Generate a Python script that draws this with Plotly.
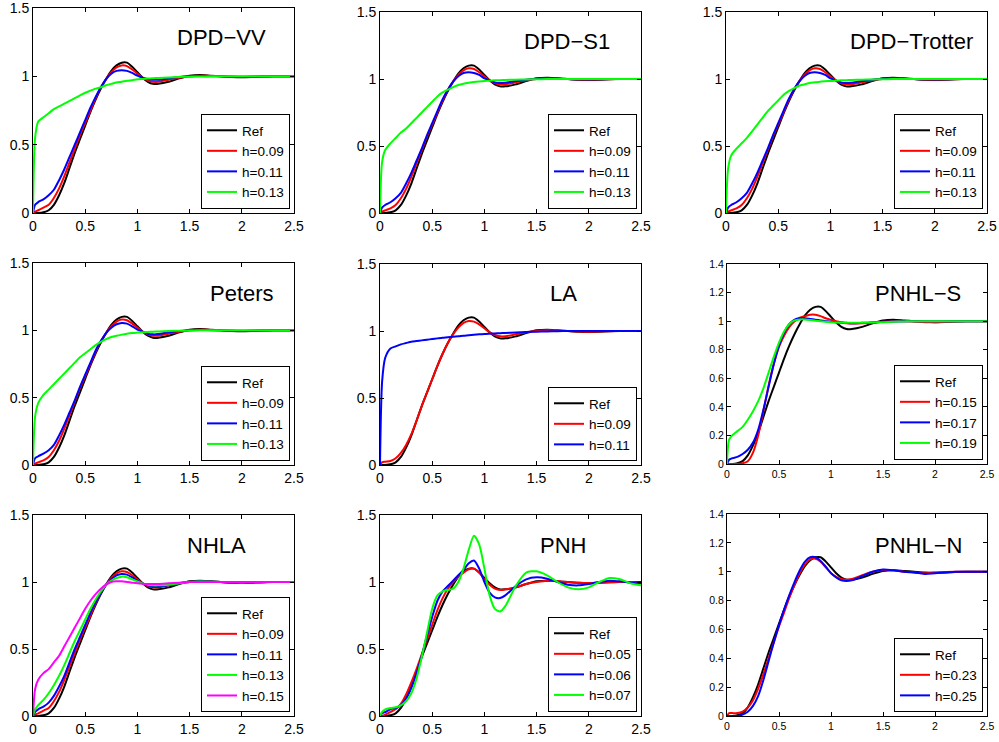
import plotly.graph_objects as go

W, H = 999, 742
FONT = "Liberation Sans, Arial, Helvetica, sans-serif"

# shared radial grid
r = [0, 0.02, 0.05, 0.1, 0.15, 0.2, 0.25, 0.3, 0.35, 0.4, 0.45, 0.5, 0.55, 0.6, 0.65,
     0.7, 0.75, 0.8, 0.85, 0.9, 0.95, 1.0, 1.05, 1.1, 1.15, 1.2, 1.3, 1.4, 1.5, 1.6,
     1.7, 1.8, 1.9, 2.0, 2.1, 2.2, 2.3, 2.4, 2.5]

x_ticks = [0, 0.5, 1, 1.5, 2, 2.5]
y_ticks_15 = [0, 0.5, 1, 1.5]
y_ticks_14 = [0, 0.2, 0.4, 0.6, 0.8, 1, 1.2, 1.4]

ref_g = [0, 0, 0, 0.005, 0.02, 0.06, 0.13, 0.22, 0.33, 0.44, 0.54, 0.64, 0.74, 0.83,
         0.91, 0.98, 1.04, 1.08, 1.10, 1.10, 1.07, 1.03, 0.99, 0.96, 0.945, 0.945,
         0.96, 0.985, 1.005, 1.01, 1.005, 1.0, 0.995, 0.993, 0.995, 0.998, 1.0, 1.0, 1.0]

# DPD-VV
vv_h009 = [0, 0.01, 0.02, 0.04, 0.06, 0.11, 0.18, 0.27, 0.37, 0.47, 0.57, 0.66, 0.75, 0.84,
           0.92, 0.98, 1.03, 1.065, 1.08, 1.075, 1.05, 1.02, 0.99, 0.97, 0.96, 0.96,
           0.975, 0.99, 1.0, 1.005, 1.003, 1.0, 0.997, 0.995, 0.997, 0.999, 1.0, 1.0, 1.0]
vv_h011 = [0, 0.06, 0.08, 0.10, 0.13, 0.17, 0.24, 0.32, 0.41, 0.50, 0.59, 0.68, 0.77, 0.85,
           0.92, 0.98, 1.02, 1.04, 1.045, 1.04, 1.025, 1.005, 0.99, 0.98, 0.975, 0.975,
           0.985, 0.995, 1.0, 1.002, 1.001, 1.0, 0.998, 0.997, 0.998, 1.0, 1.0, 1.0, 1.0]
vv_h013 = [0, 0.55, 0.67, 0.70, 0.73, 0.76, 0.78, 0.80, 0.82, 0.84, 0.86, 0.88, 0.895, 0.91,
           0.92, 0.935, 0.945, 0.955, 0.96, 0.968, 0.972, 0.978, 0.981, 0.984, 0.986, 0.988,
           0.992, 0.995, 0.997, 0.999, 1.0, 1.0, 1.0, 1.0, 1.0, 1.0, 1.0, 1.0, 1.0]

# DPD-S1
s1_h009 = [0, 0.01, 0.02, 0.035, 0.06, 0.11, 0.18, 0.27, 0.37, 0.47, 0.57, 0.66, 0.75, 0.84,
           0.92, 0.98, 1.03, 1.065, 1.08, 1.075, 1.05, 1.02, 0.99, 0.97, 0.96, 0.96,
           0.975, 0.99, 1.0, 1.005, 1.003, 1.0, 0.997, 0.995, 0.997, 0.999, 1.0, 1.0, 1.0]
s1_h011 = [0, 0.04, 0.06, 0.08, 0.11, 0.15, 0.22, 0.30, 0.39, 0.48, 0.58, 0.67, 0.76, 0.85,
           0.92, 0.98, 1.02, 1.045, 1.05, 1.045, 1.03, 1.005, 0.99, 0.975, 0.97, 0.972,
           0.985, 0.995, 1.0, 1.003, 1.001, 1.0, 0.998, 0.997, 0.998, 1.0, 1.0, 1.0, 1.0]
s1_h013 = [0, 0.38, 0.47, 0.52, 0.56, 0.60, 0.63, 0.67, 0.71, 0.75, 0.79, 0.83, 0.87, 0.90,
           0.92, 0.94, 0.955, 0.965, 0.972, 0.978, 0.982, 0.985, 0.987, 0.99, 0.991, 0.993,
           0.995, 0.997, 0.998, 1.0, 1.0, 1.0, 1.0, 1.0, 1.0, 1.0, 1.0, 1.0, 1.0]

# DPD-Trotter
tr_h009 = [0, 0.01, 0.02, 0.035, 0.06, 0.11, 0.18, 0.27, 0.37, 0.47, 0.57, 0.66, 0.75, 0.84,
           0.92, 0.98, 1.03, 1.065, 1.08, 1.075, 1.05, 1.02, 0.99, 0.97, 0.96, 0.96,
           0.975, 0.99, 1.0, 1.005, 1.003, 1.0, 0.997, 0.995, 0.997, 0.999, 1.0, 1.0, 1.0]
tr_h011 = [0, 0.04, 0.06, 0.08, 0.11, 0.15, 0.22, 0.30, 0.39, 0.48, 0.58, 0.67, 0.76, 0.85,
           0.92, 0.98, 1.02, 1.045, 1.05, 1.045, 1.03, 1.005, 0.99, 0.975, 0.97, 0.972,
           0.985, 0.995, 1.0, 1.003, 1.001, 1.0, 0.998, 0.997, 0.998, 1.0, 1.0, 1.0, 1.0]
tr_h013 = [0, 0.33, 0.43, 0.48, 0.52, 0.56, 0.61, 0.66, 0.71, 0.76, 0.80, 0.84, 0.88, 0.91,
           0.93, 0.95, 0.96, 0.97, 0.975, 0.98, 0.983, 0.986, 0.988, 0.99, 0.991, 0.993,
           0.995, 0.997, 0.998, 1.0, 1.0, 1.0, 1.0, 1.0, 1.0, 1.0, 1.0, 1.0, 1.0]

# Peters
pe_h009 = [0, 0.01, 0.02, 0.035, 0.06, 0.11, 0.18, 0.27, 0.37, 0.47, 0.57, 0.66, 0.75, 0.84,
           0.92, 0.98, 1.03, 1.065, 1.08, 1.075, 1.05, 1.02, 0.99, 0.97, 0.96, 0.96,
           0.975, 0.99, 1.0, 1.005, 1.003, 1.0, 0.997, 0.995, 0.997, 0.999, 1.0, 1.0, 1.0]
pe_h011 = [0, 0.05, 0.065, 0.085, 0.11, 0.15, 0.22, 0.30, 0.39, 0.48, 0.58, 0.67, 0.76, 0.85,
           0.92, 0.98, 1.02, 1.045, 1.055, 1.05, 1.03, 1.005, 0.99, 0.975, 0.97, 0.972,
           0.985, 0.995, 1.0, 1.003, 1.001, 1.0, 0.998, 0.997, 0.998, 1.0, 1.0, 1.0, 1.0]
pe_h013 = [0, 0.36, 0.46, 0.52, 0.56, 0.60, 0.64, 0.68, 0.72, 0.76, 0.80, 0.83, 0.86, 0.89,
           0.915, 0.935, 0.95, 0.96, 0.968, 0.975, 0.98, 0.983, 0.986, 0.988, 0.99, 0.992,
           0.995, 0.997, 0.998, 1.0, 1.0, 1.0, 1.0, 1.0, 1.0, 1.0, 1.0, 1.0, 1.0]

# LA
la_h009 = [0, 0.02, 0.025, 0.03, 0.05, 0.09, 0.15, 0.23, 0.33, 0.44, 0.54, 0.64, 0.74, 0.83,
           0.91, 0.975, 1.025, 1.06, 1.075, 1.07, 1.05, 1.02, 0.99, 0.97, 0.96, 0.96,
           0.975, 0.99, 1.0, 1.005, 1.003, 1.0, 0.997, 0.995, 0.997, 0.999, 1.0, 1.0, 1.0]
la_h011 = [0, 0.62, 0.80, 0.87, 0.885, 0.90, 0.91, 0.92, 0.925, 0.93, 0.935, 0.94, 0.945, 0.95,
           0.953, 0.957, 0.96, 0.965, 0.968, 0.972, 0.975, 0.978, 0.98, 0.982, 0.984, 0.986,
           0.989, 0.992, 0.995, 0.997, 0.999, 1.0, 1.0, 1.0, 1.0, 1.0, 1.0, 1.0, 1.0]

# PNHL-S
ps_h015 = [0, 0, 0, 0, 0.005, 0.02, 0.08, 0.20, 0.37, 0.55, 0.70, 0.82, 0.90, 0.96,
           1.0, 1.025, 1.035, 1.045, 1.045, 1.035, 1.02, 1.01, 1.0, 0.99, 0.985, 0.983,
           0.985, 0.99, 0.995, 1.0, 1.0, 0.998, 0.992, 0.993, 0.996, 0.998, 1.0, 1.0, 1.0]
ps_h017 = [0, 0.03, 0.04, 0.05, 0.07, 0.10, 0.15, 0.24, 0.38, 0.54, 0.70, 0.83, 0.92, 0.98,
           1.01, 1.02, 1.02, 1.015, 1.01, 1.005, 1.0, 0.995, 0.992, 0.99, 0.988, 0.986,
           0.988, 0.99, 0.995, 0.998, 1.0, 1.0, 1.0, 1.0, 1.0, 1.0, 1.0, 1.0, 1.0]
ps_h019 = [0, 0.17, 0.20, 0.23, 0.26, 0.31, 0.37, 0.44, 0.53, 0.64, 0.75, 0.85, 0.93, 0.98,
           1.005, 1.012, 1.012, 1.008, 1.003, 1.0, 0.996, 0.993, 0.991, 0.99, 0.989, 0.988,
           0.989, 0.99, 0.993, 0.996, 0.998, 1.0, 1.0, 1.0, 1.0, 1.0, 1.0, 1.0, 1.0]

# NHLA
nh_h009 = [0, 0.01, 0.02, 0.04, 0.06, 0.11, 0.18, 0.27, 0.37, 0.47, 0.57, 0.66, 0.75, 0.84,
           0.92, 0.98, 1.03, 1.065, 1.08, 1.075, 1.05, 1.02, 0.99, 0.97, 0.96, 0.96,
           0.975, 0.99, 1.0, 1.005, 1.003, 1.0, 0.997, 0.995, 0.997, 0.999, 1.0, 1.0, 1.0]
nh_h011 = [0, 0.03, 0.05, 0.07, 0.10, 0.15, 0.22, 0.30, 0.40, 0.50, 0.59, 0.68, 0.77, 0.85,
           0.92, 0.98, 1.02, 1.05, 1.06, 1.055, 1.035, 1.01, 0.99, 0.975, 0.965, 0.965,
           0.975, 0.99, 1.0, 1.005, 1.003, 1.0, 0.997, 0.996, 0.997, 0.999, 1.0, 1.0, 1.0]
nh_h013 = [0, 0.05, 0.08, 0.12, 0.17, 0.23, 0.30, 0.38, 0.47, 0.56, 0.64, 0.72, 0.80, 0.87,
           0.93, 0.98, 1.01, 1.03, 1.04, 1.035, 1.02, 1.005, 0.99, 0.98, 0.975, 0.975,
           0.98, 0.99, 1.0, 1.003, 1.002, 1.0, 0.998, 0.997, 0.998, 1.0, 1.0, 1.0, 1.0]
nh_h015 = [0, 0.20, 0.27, 0.32, 0.35, 0.40, 0.45, 0.52, 0.59, 0.66, 0.73, 0.80, 0.86, 0.91,
           0.95, 0.98, 1.0, 1.005, 1.005, 1.0, 0.995, 0.99, 0.987, 0.985, 0.985, 0.985,
           0.99, 0.995, 1.0, 1.0, 1.0, 1.0, 1.0, 1.0, 1.0, 1.0, 1.0, 1.0, 1.0]

# PNH
pn_h005 = [0, 0.0, 0.01, 0.03, 0.05, 0.09, 0.16, 0.25, 0.35, 0.46, 0.57, 0.68, 0.79, 0.88,
           0.95, 1.0, 1.04, 1.07, 1.095, 1.1, 1.07, 1.02, 0.98, 0.95, 0.94, 0.945,
           0.96, 0.985, 1.0, 1.01, 1.005, 1.0, 0.995, 0.993, 0.995, 0.998, 1.0, 1.0, 0.995]
pn_h006 = [0, 0.02, 0.03, 0.05, 0.06, 0.08, 0.13, 0.21, 0.32, 0.45, 0.60, 0.74, 0.86, 0.93,
           0.97, 1.01, 1.05, 1.09, 1.14, 1.16, 1.10, 1.0, 0.92, 0.885, 0.88, 0.90,
           0.97, 1.02, 1.035, 1.025, 1.0, 0.98, 0.975, 0.985, 1.0, 1.01, 1.005, 0.995, 0.99]
pn_h007 = [0, 0.03, 0.05, 0.06, 0.065, 0.08, 0.11, 0.17, 0.28, 0.44, 0.62, 0.80, 0.90, 0.93,
           0.94, 0.95, 1.0, 1.1, 1.24, 1.345, 1.28, 1.1, 0.9, 0.8, 0.78, 0.82,
           0.97, 1.07, 1.08, 1.05, 1.0, 0.96, 0.945, 0.96, 1.0, 1.03, 1.02, 0.99, 0.975]

# PNHL-N
pl_h023 = [0, 0.02, 0.02, 0.02, 0.03, 0.06, 0.11, 0.19, 0.29, 0.40, 0.51, 0.62, 0.72, 0.82,
           0.91, 0.99, 1.05, 1.085, 1.09, 1.07, 1.03, 0.99, 0.965, 0.95, 0.945, 0.95,
           0.975, 1.0, 1.01, 1.01, 1.0, 0.995, 0.99, 0.995, 0.998, 1.0, 1.0, 1.0, 1.0]
pl_h025 = [0, 0, 0, 0, 0.01, 0.03, 0.07, 0.14, 0.25, 0.38, 0.51, 0.63, 0.74, 0.84,
           0.93, 1.01, 1.07, 1.1, 1.1, 1.075, 1.035, 0.99, 0.96, 0.94, 0.935, 0.94,
           0.97, 1.0, 1.015, 1.01, 1.0, 0.995, 0.985, 0.99, 0.995, 1.0, 1.0, 1.0, 1.0]

K, R, B, G, M = "#000000", "#ff0000", "#0000ff", "#00ff00", "#ff00ff"

panels = [
    dict(title="DPD−VV", box=(33, 8, 294, 213), ymax=1.5, yt=y_ticks_15, fs=14, tpos=(175, 37),
         series=[("Ref", ref_g, K), ("h=0.09", vv_h009, R), ("h=0.11", vv_h011, B), ("h=0.13", vv_h013, G)]),
    dict(title="DPD−S1", box=(380, 12, 641, 213), ymax=1.5, yt=y_ticks_15, fs=14, tpos=(522, 42),
         series=[("Ref", ref_g, K), ("h=0.09", s1_h009, R), ("h=0.11", s1_h011, B), ("h=0.13", s1_h013, G)]),
    dict(title="DPD−Trotter", box=(726, 12, 987, 213), ymax=1.5, yt=y_ticks_15, fs=14, tpos=(848, 42),
         series=[("Ref", ref_g, K), ("h=0.09", tr_h009, R), ("h=0.11", tr_h011, B), ("h=0.13", tr_h013, G)]),
    dict(title="Peters", box=(33, 263, 294, 465), ymax=1.5, yt=y_ticks_15, fs=14, tpos=(208, 293),
         series=[("Ref", ref_g, K), ("h=0.09", pe_h009, R), ("h=0.11", pe_h011, B), ("h=0.13", pe_h013, G)]),
    dict(title="LA", box=(380, 264, 641, 465), ymax=1.5, yt=y_ticks_15, fs=14, tpos=(548, 293),
         series=[("Ref", ref_g, K), ("h=0.09", la_h009, R), ("h=0.11", la_h011, B)]),
    dict(title="PNHL−S", box=(727, 264, 987, 464), ymax=1.4, yt=y_ticks_14, fs=10.5, tpos=(873, 293),
         series=[("Ref", ref_g, K), ("h=0.15", ps_h015, R), ("h=0.17", ps_h017, B), ("h=0.19", ps_h019, G)]),
    dict(title="NHLA", box=(33, 515, 294, 716), ymax=1.5, yt=y_ticks_15, fs=14, tpos=(185, 545),
         series=[("Ref", ref_g, K), ("h=0.09", nh_h009, R), ("h=0.11", nh_h011, B), ("h=0.13", nh_h013, G),
                 ("h=0.15", nh_h015, M)]),
    dict(title="PNH", box=(380, 515, 641, 716), ymax=1.5, yt=y_ticks_15, fs=14, tpos=(538, 545),
         series=[("Ref", ref_g, K), ("h=0.05", pn_h005, R), ("h=0.06", pn_h006, B), ("h=0.07", pn_h007, G)]),
    dict(title="PNHL−N", box=(727, 514, 987, 716), ymax=1.4, yt=y_ticks_14, fs=10.5, tpos=(873, 545),
         series=[("Ref", ref_g, K), ("h=0.23", pl_h023, R), ("h=0.25", pl_h025, B)]),
]

fig = go.Figure()
layout = dict(width=W, height=H, margin=dict(l=0, r=0, t=0, b=0, pad=0, autoexpand=False),
              paper_bgcolor="white", plot_bgcolor="white",
              font=dict(family=FONT, color="black"), annotations=[])

for i, p in enumerate(panels, start=1):
    sx = "" if i == 1 else str(i)
    leg = "legend" if i == 1 else f"legend{i}"
    for name, ys, col in p["series"]:
        fig.add_trace(go.Scatter(
            x=r, y=ys, mode="lines", name=name,
            line=dict(color=col, width=2, shape="spline", smoothing=0.7),
            xaxis="x" + sx, yaxis="y" + sx, legend=leg, hoverinfo="skip"))
    x0, y0, x1, y1 = p["box"]
    ax_common = dict(showline=True, linecolor="black", linewidth=1, mirror="ticks",
                     ticks="inside", ticklen=4, tickwidth=1, tickcolor="black",
                     showgrid=False, zeroline=False, automargin=False,
                     ticklabeloverflow="allow",
                     tickfont=dict(family=FONT, size=p["fs"], color="black"))
    layout["xaxis" + sx] = dict(domain=[x0 / W, x1 / W], anchor="y" + sx, range=[0, 2.5],
                                tickmode="array", tickvals=x_ticks, **ax_common)
    layout["yaxis" + sx] = dict(domain=[1 - y1 / H, 1 - y0 / H], anchor="x" + sx,
                                range=[0, p["ymax"]], tickmode="array", tickvals=p["yt"],
                                **ax_common)
    layout[leg] = dict(x=(x1 - 4) / W, y=1 - (y1 - 4) / H, xanchor="right", yanchor="bottom",
                       bgcolor="white", bordercolor="black", borderwidth=1,
                       font=dict(family=FONT, size=13.5, color="black"),
                       itemwidth=30, tracegroupgap=0)
    tx, ty = p["tpos"]
    layout["annotations"].append(dict(
        text=p["title"], xref="paper", yref="paper", x=tx / W, y=1 - ty / H,
        xanchor="left", yanchor="middle", showarrow=False,
        font=dict(family=FONT, size=22, color="black")))

fig.update_layout(**layout)
fig.write_html("out.html", config={"displayModeBar": False},
               post_script="document.body.style.margin='0';document.body.style.overflow='hidden';")
